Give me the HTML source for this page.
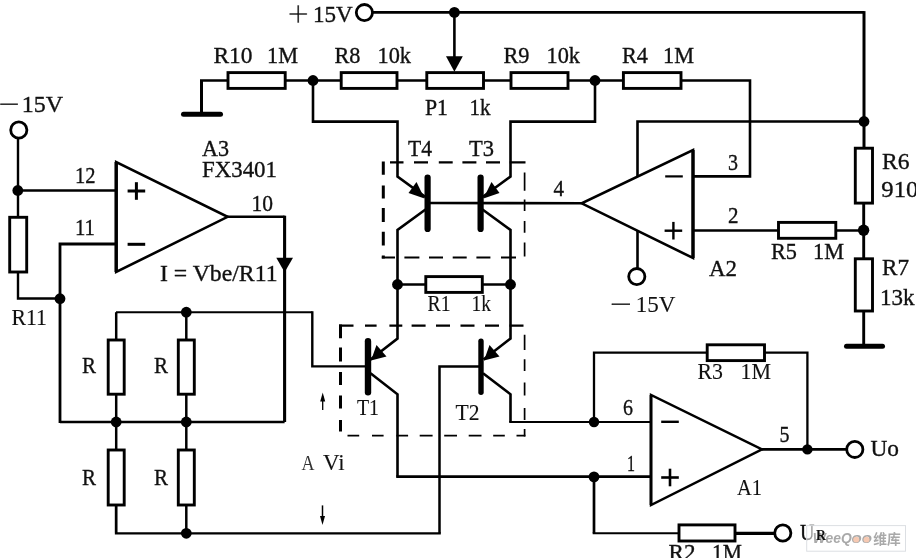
<!DOCTYPE html>
<html><head><meta charset="utf-8"><title>Circuit</title>
<style>
html,body{margin:0;padding:0;background:#fff;overflow:hidden}
svg{display:block;will-change:transform}

.t text.lt{stroke-width:0.12}
.t text{font-family:"Liberation Serif","Noto Serif CJK SC",serif;fill:#111;stroke:#111;stroke-width:0.36}
</style></head>
<body>
<svg width="916" height="558" viewBox="0 0 916 558">
<rect width="916" height="558" fill="#fff"/>
<g fill="none" stroke="#000" stroke-linejoin="miter">
<polyline points="372,12.4 864,12.4" stroke-width="2.6" />
<polyline points="864,11.1 864,148" stroke-width="3.0" />
<circle cx="454.4" cy="12.4" r="5.4" fill="#000" stroke="none"/>
<circle cx="864" cy="121.5" r="5.4" fill="#000" stroke="none"/>
<polyline points="454.4,12.4 454.4,60" stroke-width="2.6" />
<polygon points="446,56.3 462.8,56.3 454.4,71.8" fill="#000" stroke-width="0"/>
<circle cx="364.4" cy="12.6" r="8.1" fill="#fff" stroke-width="2.8"/>
<polyline points="201.5,114 201.5,80.5" stroke-width="3.0" />
<polyline points="200,80.5 750,80.5 750,176.4 693,176.4" stroke-width="2.6" />
<polyline points="183.5,114.3 220.5,114.3" stroke-width="5" stroke-linecap="round"/>
<rect x="228" y="72.6" width="57.19999999999999" height="15.800000000000011" fill="#fff" stroke-width="2.9"/>
<rect x="341.2" y="72.6" width="55.80000000000001" height="15.800000000000011" fill="#fff" stroke-width="2.9"/>
<rect x="426.8" y="72.6" width="56.69999999999999" height="15.800000000000011" fill="#fff" stroke-width="2.9"/>
<rect x="511" y="72.6" width="57" height="15.800000000000011" fill="#fff" stroke-width="2.9"/>
<rect x="623.4" y="72.6" width="57.60000000000002" height="15.800000000000011" fill="#fff" stroke-width="2.9"/>
<circle cx="313" cy="80.5" r="5.4" fill="#000" stroke="none"/>
<circle cx="595" cy="80.5" r="5.4" fill="#000" stroke="none"/>
<polyline points="313,80.5 313,121.6 397.5,121.6 397.5,176.5 425.5,197" stroke-width="2.6" />
<polyline points="595,80.5 595,121.6 510.5,121.6 510.5,176.5 482.5,197" stroke-width="2.6" />
<polyline points="864,121.5 637.5,121.5 637.5,177" stroke-width="2.6" />
<polygon points="693,150 693,258 581.7,203.3" fill="none" stroke-width="2.6"/>
<polyline points="693,150 693,258" stroke-width="3.3" />
<polyline points="637.5,230.5 637.5,269" stroke-width="2.6" />
<circle cx="636.8" cy="276.6" r="8.1" fill="#fff" stroke-width="2.8"/>
<polyline points="428,203 581.7,203.2" stroke-width="2.6" />
<polyline points="427.6,177.5 427.6,229" stroke-width="6.2" stroke-linecap="round"/>
<polyline points="480.6,177.5 480.6,229" stroke-width="6.2" stroke-linecap="round"/>
<polyline points="425.5,209.5 397.5,230 397.5,338.5 370.5,359.5" stroke-width="2.6" />
<polyline points="482.5,209.5 510.5,230 510.5,338.5 483.5,359.5" stroke-width="2.6" />
<polygon points="424.5,198.5 408.5,193 416.5,182" fill="#000" stroke-width="0"/>
<polygon points="483.5,198.5 499.5,193 491.5,182" fill="#000" stroke-width="0"/>
<polyline points="397.5,284.5 510.5,284.5" stroke-width="2.6" />
<rect x="425.8" y="276.6" width="56.5" height="15.799999999999955" fill="#fff" stroke-width="2.9"/>
<circle cx="397.5" cy="284.5" r="5.4" fill="#000" stroke="none"/>
<circle cx="510.5" cy="284.5" r="5.4" fill="#000" stroke="none"/>
<path d="M390,162.3H403.5 M414,162.3H428 M438.8,162.3H452.7 M462.4,162.3H476.4 M486,162.3H500 M509.7,162.3H525.5" stroke-width="2.2"/>
<path d="M381.8,257.5H395 M404.4,257.5H419.4 M429,257.5H443 M452.7,257.5H466.7 M476.4,257.5H490.4 M501,257.5H516" stroke-width="2.2"/>
<path d="M383.3,161.5V174.7 M383.3,185.5V198.4 M383.3,208V222 M383.3,231.7V245.6 M383.3,255.5V258.5" stroke-width="3.0"/>
<path d="M524.6,172.6V190.8 M524.6,199.4V211 M524.6,221V232.7 M524.6,242.4V256.4" stroke-width="1.7"/>
<path d="M339,325.6H353.5 M365,325.6H376.6 M389.4,325.6H402.3 M411.6,325.6H425.6 M436,325.6H450 M460.5,325.6H474.5 M485,325.6H499 M509.5,325.6H523.5" stroke-width="2.2"/>
<path d="M347.5,435.7H359.2 M372,435.7H383.6 M396.4,435.7H408.1 M419.7,435.7H432.6 M444.2,435.7H457 M468.7,435.7H481.5 M493.2,435.7H504.8 M516.5,435.7H525.4" stroke-width="1.7"/>
<path d="M340.5,324.5V338.3 M340.5,347.6V361.6 M340.5,372V385 M340.5,395.4V408.5 M340.5,420V431.5" stroke-width="3.0"/>
<path d="M524.6,334.8V350 M524.6,359.3V371 M524.6,382.6V395.4 M524.6,408V420 M524.6,429V436.5" stroke-width="1.7"/>
<polyline points="368,341.3 368,392.2" stroke-width="6.4" stroke-linecap="round"/>
<polyline points="481,341.3 481,392.2" stroke-width="5.4" stroke-linecap="round"/>
<polygon points="371,360.5 376.5,345 386.5,356.5" fill="#000" stroke-width="0"/>
<polygon points="484,360.5 489.5,345 499.5,356.5" fill="#000" stroke-width="0"/>
<polyline points="370.5,373.3 397.5,394.3 397.5,476.7" stroke-width="2.6" />
<polyline points="396.2,476.7 651,476.7" stroke-width="2.8" />
<polyline points="483,373.3 510.5,394.3 510.5,422" stroke-width="2.6" />
<polyline points="509.2,422 651,422" stroke-width="2.0" />
<circle cx="594" cy="422" r="5.2" fill="#000" stroke="none"/>
<circle cx="594" cy="476.9" r="5.4" fill="#000" stroke="none"/>
<polyline points="116,312.2 312.3,312.2" stroke-width="2.0" />
<polyline points="312.3,311.2 312.3,366.4 368,366.4" stroke-width="2.4" />
<polyline points="481,366.4 439.5,366.4 439.5,533.3" stroke-width="2.5" />
<polyline points="440.8,533.3 116,533.3 116,506" stroke-width="2.3" />
<polyline points="594,422 594,352.7 807.4,352.7 807.4,449.4" stroke-width="2.3" />
<rect x="707.2" y="344.8" width="57.299999999999955" height="15.800000000000011" fill="#fff" stroke-width="2.9"/>
<polygon points="651,395 651,505 762,449.4" fill="none" stroke-width="2.4"/>
<polyline points="651,395 651,505" stroke-width="2.8" />
<polyline points="762,449.4 846,449.4" stroke-width="2.6" />
<circle cx="807.4" cy="449.4" r="5.2" fill="#000" stroke="none"/>
<circle cx="854.8" cy="449.4" r="8.1" fill="#fff" stroke-width="2.8"/>
<polyline points="594,476.7 594,533.3" stroke-width="2.7" />
<polyline points="592.7,533.3 680,533.3" stroke-width="2.0" />
<rect x="679" y="524.9" width="56" height="16.100000000000023" fill="#fff" stroke-width="2.9"/>
<polyline points="736,533.3 775,533.3" stroke-width="3.2" />
<circle cx="782.8" cy="533" r="8.1" fill="#fff" stroke-width="2.8"/>
<polygon points="116.2,162 116.2,272 227.6,216.8" fill="none" stroke-width="2.6"/>
<polyline points="116.2,162 116.2,272" stroke-width="3.4" />
<polyline points="227,216.8 284.6,216.8" stroke-width="2.6" />
<polyline points="284.6,215.7 284.6,422" stroke-width="3.1" />
<polyline points="284.6,422 60,422" stroke-width="2.3" />
<polyline points="60,423.1 60,244 116,244" stroke-width="2.8" />
<polygon points="276.3,257.8 293,257.8 284.6,272.3" fill="#000" stroke-width="0"/>
<polyline points="18,138 18,298.5 60,298.5" stroke-width="2.4" />
<circle cx="18.8" cy="130" r="8.1" fill="#fff" stroke-width="2.8"/>
<circle cx="17.8" cy="190.5" r="5.4" fill="#000" stroke="none"/>
<circle cx="60" cy="298.7" r="5.4" fill="#000" stroke="none"/>
<polyline points="18,190.5 116,190.5" stroke-width="2.6" />
<rect x="9.7" y="217.3" width="17.0" height="54.69999999999999" fill="#fff" stroke-width="2.9"/>
<polyline points="116.2,312.2 116.2,533.3" stroke-width="2.5" />
<rect x="108.2" y="340" width="16.0" height="54.19999999999999" fill="#fff" stroke-width="2.9"/>
<rect x="108.2" y="450" width="16.0" height="55" fill="#fff" stroke-width="2.9"/>
<circle cx="116.2" cy="422" r="5.4" fill="#000" stroke="none"/>
<polyline points="186.3,312.2 186.3,533.3" stroke-width="2.5" />
<rect x="178.3" y="340" width="16.0" height="54.19999999999999" fill="#fff" stroke-width="2.9"/>
<rect x="178.3" y="450" width="16.0" height="55" fill="#fff" stroke-width="2.9"/>
<circle cx="186.3" cy="422" r="5.4" fill="#000" stroke="none"/>
<circle cx="186.3" cy="312.2" r="5.4" fill="#000" stroke="none"/>
<circle cx="186.3" cy="533.3" r="5.4" fill="#000" stroke="none"/>
<polyline points="863.7,148 863.7,346" stroke-width="2.9" />
<rect x="855.3" y="148.2" width="17.200000000000045" height="54.900000000000006" fill="#fff" stroke-width="2.9"/>
<rect x="855.3" y="258.8" width="17.200000000000045" height="52.19999999999999" fill="#fff" stroke-width="2.9"/>
<polyline points="846.5,346.2 882.5,346.2" stroke-width="5" stroke-linecap="round"/>
<polyline points="693,230.5 864,230.5" stroke-width="2.6" />
<rect x="778.5" y="222.4" width="57.299999999999955" height="15.900000000000006" fill="#fff" stroke-width="2.9"/>
<circle cx="863.6" cy="230.3" r="5.7" fill="#000" stroke="none"/>
<polyline points="127.60000000000001,191 145.20000000000002,191" stroke-width="3" />
<polyline points="136.4,182.2 136.4,199.8" stroke-width="3" />
<polyline points="127.60000000000001,244.3 145.20000000000002,244.3" stroke-width="3" />
<polyline points="665.2,176.4 682.8,176.4" stroke-width="2.2" />
<polyline points="664.6,230.7 682.1999999999999,230.7" stroke-width="2.4" />
<polyline points="673.4,221.89999999999998 673.4,239.5" stroke-width="2.4" />
<polyline points="661.2,421.8 678.8,421.8" stroke-width="2.4" />
<polyline points="661.2,477.5 678.8,477.5" stroke-width="2.6" />
<polyline points="670,468.7 670,486.3" stroke-width="2.6" />
<polyline points="322.7,410 322.7,396" stroke-width="1.3" />
<polygon points="320.2,401.5 325.2,401.5 322.7,392.5" fill="#000" stroke-width="0"/>
<polyline points="322.5,505.4 322.5,520" stroke-width="1.5" />
<polygon points="320,516 325,516 322.5,525" fill="#000" stroke-width="0"/>
</g>
<g class="t">
<text x="-1" y="112" font-size="24" textLength="20.5" lengthAdjust="spacingAndGlyphs" >−</text>
<text x="21.7" y="112" font-size="24" textLength="41.3" lengthAdjust="spacingAndGlyphs" >15V</text>
<text x="287.2" y="26.8" font-size="38.5" style="stroke:#fff;stroke-width:0.35">+</text>
<text x="313" y="22" font-size="24" textLength="39.8" lengthAdjust="spacingAndGlyphs" >15V</text>
<text x="610.3" y="311.5" font-size="24" textLength="21.5" lengthAdjust="spacingAndGlyphs" >−</text>
<text x="635.8" y="311.5" font-size="24" textLength="39.7" lengthAdjust="spacingAndGlyphs"  class="lt">15V</text>
<text x="213.5" y="62.6" font-size="24" textLength="39" lengthAdjust="spacingAndGlyphs" >R10</text>
<text x="267" y="62.6" font-size="24" textLength="31" lengthAdjust="spacingAndGlyphs" >1M</text>
<text x="334.5" y="62.6" font-size="24" textLength="26" lengthAdjust="spacingAndGlyphs" >R8</text>
<text x="377.5" y="62.6" font-size="24" textLength="33.5" lengthAdjust="spacingAndGlyphs" >10k</text>
<text x="503.5" y="62.6" font-size="24" textLength="26" lengthAdjust="spacingAndGlyphs" >R9</text>
<text x="546.5" y="62.6" font-size="24" textLength="33.5" lengthAdjust="spacingAndGlyphs" >10k</text>
<text x="622" y="62.6" font-size="24" textLength="26" lengthAdjust="spacingAndGlyphs" >R4</text>
<text x="663" y="62.6" font-size="24" textLength="31" lengthAdjust="spacingAndGlyphs" >1M</text>
<text x="425" y="115" font-size="24" textLength="23" lengthAdjust="spacingAndGlyphs" >P1</text>
<text x="469.5" y="115" font-size="24" textLength="21" lengthAdjust="spacingAndGlyphs" >1k</text>
<text x="408" y="156" font-size="24" textLength="24" lengthAdjust="spacingAndGlyphs" >T4</text>
<text x="469" y="156" font-size="24" textLength="25" lengthAdjust="spacingAndGlyphs" >T3</text>
<text x="202" y="156" font-size="23" textLength="27" lengthAdjust="spacingAndGlyphs" >A3</text>
<text x="202" y="177" font-size="24" textLength="75" lengthAdjust="spacingAndGlyphs" >FX3401</text>
<text x="75" y="183" font-size="24" textLength="20.5" lengthAdjust="spacingAndGlyphs" >12</text>
<text x="75" y="235" font-size="24" textLength="20" lengthAdjust="spacingAndGlyphs" >11</text>
<text x="251.5" y="210.7" font-size="24" textLength="21.5" lengthAdjust="spacingAndGlyphs" >10</text>
<text x="160" y="281.4" font-size="24" textLength="117.5" lengthAdjust="spacingAndGlyphs" >I = Vbe/R11</text>
<text x="11.5" y="324.7" font-size="24" textLength="35.5" lengthAdjust="spacingAndGlyphs"  class="lt">R11</text>
<text x="82" y="373.3" font-size="24" textLength="14" lengthAdjust="spacingAndGlyphs" >R</text>
<text x="154" y="373.3" font-size="24" textLength="14" lengthAdjust="spacingAndGlyphs" >R</text>
<text x="82" y="484.5" font-size="24" textLength="14" lengthAdjust="spacingAndGlyphs" >R</text>
<text x="154" y="484.5" font-size="24" textLength="14" lengthAdjust="spacingAndGlyphs" >R</text>
<text x="427.5" y="311" font-size="24" textLength="23" lengthAdjust="spacingAndGlyphs"  class="lt">R1</text>
<text x="471.5" y="311" font-size="24" textLength="19.5" lengthAdjust="spacingAndGlyphs"  class="lt">1k</text>
<text x="357" y="414.6" font-size="24" textLength="22" lengthAdjust="spacingAndGlyphs"  class="lt">T1</text>
<text x="455.5" y="420.4" font-size="24" textLength="24" lengthAdjust="spacingAndGlyphs"  class="lt">T2</text>
<text x="301.5" y="470" font-size="21.5" textLength="13" lengthAdjust="spacingAndGlyphs" style="fill:#333;stroke:none">A</text>
<text x="323" y="470" font-size="24" textLength="21.5" lengthAdjust="spacingAndGlyphs"  class="lt">Vi</text>
<text x="553.5" y="196" font-size="24" textLength="10.5" lengthAdjust="spacingAndGlyphs" >4</text>
<text x="728" y="169.5" font-size="24" textLength="10" lengthAdjust="spacingAndGlyphs" >3</text>
<text x="728" y="223.4" font-size="24" textLength="10.5" lengthAdjust="spacingAndGlyphs" >2</text>
<text x="882" y="169.3" font-size="24" textLength="27.5" lengthAdjust="spacingAndGlyphs" >R6</text>
<text x="881.3" y="197" font-size="24" textLength="37" lengthAdjust="spacingAndGlyphs" >910</text>
<text x="882" y="275" font-size="24" textLength="27" lengthAdjust="spacingAndGlyphs" >R7</text>
<text x="880" y="305" font-size="24" textLength="34.5" lengthAdjust="spacingAndGlyphs" >13k</text>
<text x="771" y="259.3" font-size="24" textLength="26" lengthAdjust="spacingAndGlyphs" >R5</text>
<text x="813" y="259.3" font-size="24" textLength="31" lengthAdjust="spacingAndGlyphs" >1M</text>
<text x="709" y="275.5" font-size="24" textLength="28" lengthAdjust="spacingAndGlyphs" >A2</text>
<text x="697.5" y="378.6" font-size="24" textLength="25.5" lengthAdjust="spacingAndGlyphs"  class="lt">R3</text>
<text x="740.5" y="378.6" font-size="24" textLength="30.5" lengthAdjust="spacingAndGlyphs"  class="lt">1M</text>
<text x="623" y="415" font-size="24" textLength="10" lengthAdjust="spacingAndGlyphs" >6</text>
<text x="627" y="470.5" font-size="24" textLength="8" lengthAdjust="spacingAndGlyphs" >1</text>
<text x="779.5" y="442" font-size="24" textLength="10" lengthAdjust="spacingAndGlyphs" >5</text>
<text x="737" y="495.4" font-size="24" textLength="25" lengthAdjust="spacingAndGlyphs"  class="lt">A1</text>
<text x="870.5" y="456" font-size="24" textLength="28.5" lengthAdjust="spacingAndGlyphs" >Uo</text>
<text x="800" y="540" font-size="24" textLength="14.5" lengthAdjust="spacingAndGlyphs" >U</text>
<text x="668.5" y="560" font-size="24" textLength="27" lengthAdjust="spacingAndGlyphs" >R2</text>
<text x="712" y="560" font-size="24" textLength="30" lengthAdjust="spacingAndGlyphs" >1M</text>
</g>
<g>
<rect x="806.7" y="525.6" width="98.8" height="25.6" fill="#fff" fill-opacity="0.55" stroke="#dcdfe3" stroke-width="1"/>
<text x="812.8" y="543.2" textLength="39" lengthAdjust="spacingAndGlyphs" style="font:italic bold 15.5px 'Liberation Sans',sans-serif;fill:#a9a9a9">WeeQ</text>
<text x="851.6" y="543.2" textLength="20.5" lengthAdjust="spacingAndGlyphs" style="font:italic bold 15.5px 'Liberation Sans',sans-serif;fill:#a9a9a9">oo</text>
<ellipse cx="856.2" cy="539.6" rx="3" ry="2.9" fill="#f6c9b2"/><ellipse cx="866.5" cy="539.6" rx="3" ry="2.9" fill="#f6c9b2"/>
<text x="873.3" y="544.3" textLength="27.5" lengthAdjust="spacingAndGlyphs" style="font:bold 14px 'Liberation Sans','Noto Sans CJK SC',sans-serif;fill:#a9a9a9">维库</text>
<text x="816" y="540" textLength="10" lengthAdjust="spacingAndGlyphs" style="font:bold 15.5px 'Liberation Serif',serif;fill:#111">R</text>
</g>
</svg>
</body></html>
